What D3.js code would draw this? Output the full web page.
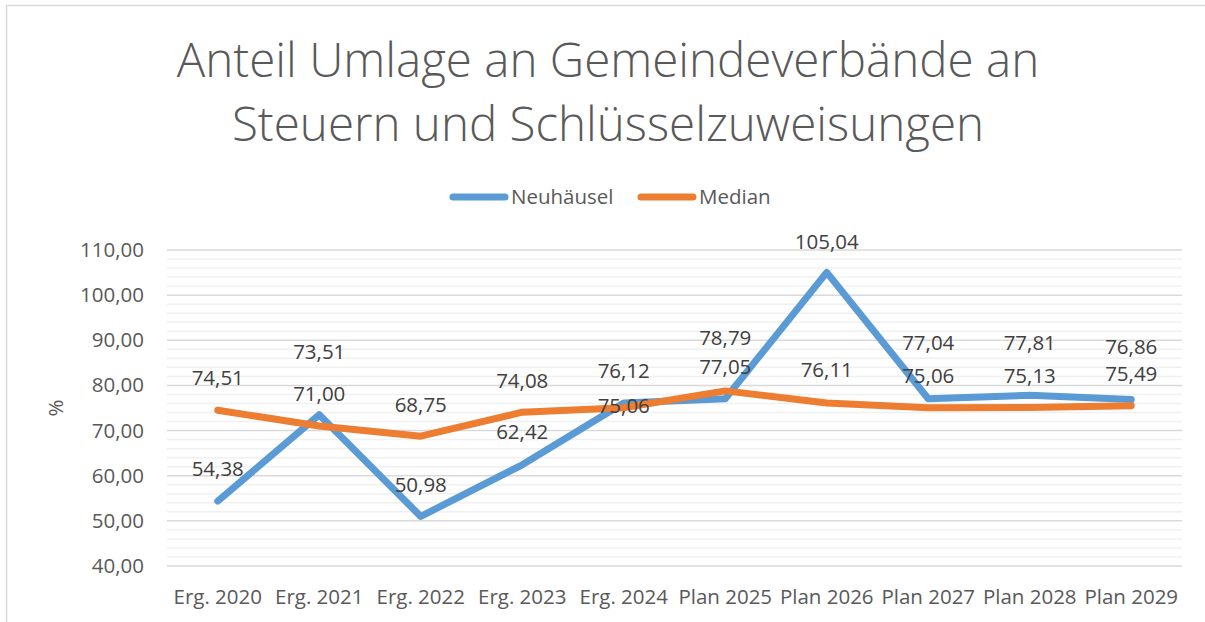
<!DOCTYPE html>
<html>
<head>
<meta charset="utf-8">
<script src="https://cdn.jsdelivr.net/npm/d3@7"></script>
<style>
  body { margin: 0; background: #ffffff; }
  svg { display: block; }
</style>
</head>
<body>
<script>
// Données
const categories = ['Erg. 2020', 'Erg. 2021', 'Erg. 2022', 'Erg. 2023', 'Erg. 2024',
    'Plan 2025', 'Plan 2026', 'Plan 2027', 'Plan 2028', 'Plan 2029']
const neuhaeusel = [54.38, 73.51, 50.98, 62.42, 76.12, 77.05, 105.04, 77.04, 77.81, 76.86]
const median = [74.51, 71.00, 68.75, 74.08, 75.06, 78.79, 76.11, 75.06, 75.13, 75.49]
const yTicks = [40, 50, 60, 70, 80, 90, 100, 110]

// décalage vertical des étiquettes (placement manuel comme dans Excel)
const labelDyN = [-32, -63, -32, -33, -32, -32, -31, -56, -52, -53]
const labelDyM = [-32, -32, -31, -31, -2, -53, -33, -32, -32, -32]

const width = 1205, height = 622
const margin = { top: 250, right: 23, bottom: 56, left: 167 }
const font = "'Open Sans', sans-serif"
const fontSize = '20.5px'

const svg = d3.select('body').append('svg')
    .attr('width', width)
    .attr('height', height)

// cadre du graphique
svg.append('rect')
    .attr('x', 6.5)
    .attr('y', 5.5)
    .attr('width', width + 10)
    .attr('height', height + 10)
    .attr('fill', '#ffffff')
    .attr('stroke', '#d9d9d9')
    .attr('stroke-width', 1.5)

// Titre
const title = svg.append('text')
    .attr('text-anchor', 'middle')
    .attr('fill', '#595959')
    .style('font-family', font)
    .style('font-weight', 300)
    .style('font-size', '47.5px')
title.append('tspan').attr('x', 608).attr('y', 77).text('Anteil Umlage an Gemeindeverbände an')
title.append('tspan').attr('x', 608).attr('y', 141).text('Steuern und Schlüsselzuweisungen')

// Echelles
const x = d3.scaleBand()
    .domain(categories)
    .range([margin.left, width - margin.right])

const y = d3.scaleLinear()
    .domain([40, 110])
    .range([height - margin.bottom, margin.top])

// grille secondaire (tous les 2)
const minor = d3.range(40, 110.1, 2).filter(v => v % 10 != 0)
svg.append('g')
    .selectAll('line')
    .data(minor)
    .join('line')
    .attr('x1', margin.left)
    .attr('x2', width - margin.right)
    .attr('y1', d => y(d))
    .attr('y2', d => y(d))
    .attr('stroke', '#f0f0f0')
    .attr('stroke-width', 1.5)

// grille principale
svg.append('g')
    .selectAll('line')
    .data(yTicks)
    .join('line')
    .attr('x1', margin.left)
    .attr('x2', width - margin.right)
    .attr('y1', d => y(d))
    .attr('y2', d => y(d))
    .attr('stroke', '#d9d9d9')
    .attr('stroke-width', 1.5)

// Axe Y
const yAxis = svg.append('g')
    .attr('transform', `translate(${margin.left - 23}, 0)`)
    .call(d3.axisLeft(y).tickValues(yTicks).tickSize(0).tickPadding(0)
        .tickFormat(d => d3.format('.2f')(d).replace('.', ',')))
yAxis.select('.domain').remove()
yAxis.selectAll('text')
    .attr('fill', '#595959')
    .style('font-family', font)
    .style('font-size', fontSize)

// Axe X
const xAxis = svg.append('g')
    .attr('transform', `translate(0, ${height - margin.bottom})`)
    .call(d3.axisBottom(x).tickSize(0).tickPadding(23))
xAxis.select('.domain').remove()
xAxis.selectAll('text')
    .attr('fill', '#595959')
    .style('font-family', font)
    .style('font-size', fontSize)

// titre de l'axe Y
svg.append('text')
    .attr('transform', `translate(63, 408) rotate(-90)`)
    .attr('text-anchor', 'middle')
    .attr('fill', '#595959')
    .style('font-family', font)
    .style('font-size', fontSize)
    .text('%')

// Lignes
const cx = d => x(d) + x.bandwidth() / 2
const line = d3.line()
    .x((d, i) => cx(categories[i]))
    .y(d => y(d))

const series = [
    { name: 'Neuhäusel', values: neuhaeusel, color: '#5b9bd5', dy: labelDyN },
    { name: 'Median', values: median, color: '#ed7d31', dy: labelDyM }
]

series.forEach(s => {
    svg.append('path')
        .datum(s.values)
        .attr('d', line)
        .attr('fill', 'none')
        .attr('stroke', s.color)
        .attr('stroke-width', 7)
        .attr('stroke-linecap', 'round')
        .attr('stroke-linejoin', 'round')
})

// Etiquettes de données
series.forEach(s => {
    svg.append('g')
        .selectAll('text')
        .data(s.values)
        .join('text')
        .attr('x', (d, i) => cx(categories[i]))
        .attr('y', (d, i) => y(d) + s.dy[i])
        .attr('dy', '0.35em')
        .attr('text-anchor', 'middle')
        .attr('fill', '#404040')
        .style('font-family', font)
        .style('font-size', fontSize)
        .text(d => d3.format('.2f')(d).replace('.', ','))
})

// Légende
const legendItems = [
    { name: 'Neuhäusel', color: '#5b9bd5', x: 453 },
    { name: 'Median', color: '#ed7d31', x: 641 }
]
const legend = svg.append('g')
legendItems.forEach(l => {
    legend.append('line')
        .attr('x1', l.x)
        .attr('x2', l.x + 52)
        .attr('y1', 197)
        .attr('y2', 197)
        .attr('stroke', l.color)
        .attr('stroke-width', 7)
        .attr('stroke-linecap', 'round')
    legend.append('text')
        .attr('x', l.x + 58)
        .attr('y', 197)
        .attr('dy', '0.35em')
        .attr('fill', '#595959')
        .style('font-family', font)
        .style('font-size', fontSize)
        .text(l.name)
})
</script>
</body>
</html>
